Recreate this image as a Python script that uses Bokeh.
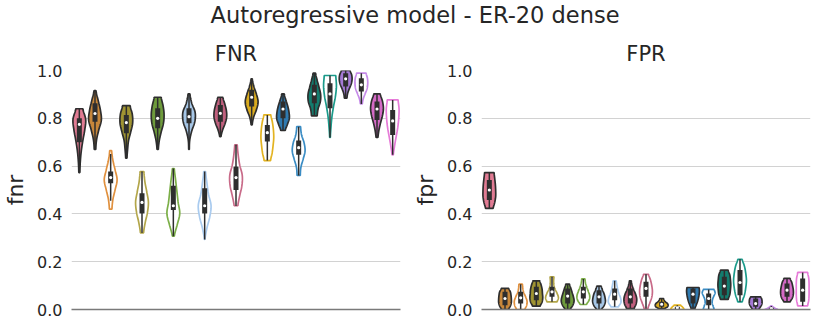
import numpy as np
from bokeh.plotting import figure
from bokeh.models import ColumnDataSource, Range1d, FixedTicker, Div, PrintfTickFormatter
from bokeh.layouts import column, row
from bokeh.embed import file_html
from bokeh.resources import INLINE

# ---------------- data ----------------
categories = ["c01", "c02", "c03", "c04", "c05", "c06", "c07", "c08", "c09", "c10", "c11",
              "c12", "c13", "c14", "c15", "c16", "c17", "c18", "c19", "c20", "c21"]

# FNR: extent, quartiles, median, relative density profile (bottom -> top)
fnr_lo = [0.573, 0.670, 0.420, 0.633, 0.321, 0.670, 0.307, 0.670, 0.293, 0.723, 0.434,
          0.772, 0.623, 0.749, 0.561, 0.810, 0.720, 0.884, 0.860, 0.720, 0.647]
fnr_hi = [0.840, 0.916, 0.665, 0.853, 0.577, 0.888, 0.590, 0.902, 0.577, 0.888, 0.689,
          0.965, 0.814, 0.902, 0.765, 0.989, 0.979, 1.000, 0.989, 0.902, 0.877]
fnr_q1 = [0.700, 0.786, 0.528, 0.737, 0.402, 0.758, 0.416, 0.779, 0.402, 0.786, 0.500,
          0.849, 0.703, 0.800, 0.647, 0.863, 0.842, 0.933, 0.912, 0.793, 0.730]
fnr_med = [0.775, 0.820, 0.552, 0.782, 0.448, 0.800, 0.434, 0.807, 0.434, 0.821, 0.552,
           0.888, 0.740, 0.839, 0.677, 0.902, 0.902, 0.965, 0.940, 0.839, 0.789]
fnr_q3 = [0.800, 0.863, 0.577, 0.814, 0.486, 0.842, 0.518, 0.842, 0.507, 0.856, 0.598,
          0.919, 0.772, 0.870, 0.707, 0.940, 0.947, 0.989, 0.968, 0.870, 0.835]
fnr_shape = [
    [0.08, 0.15, 0.30, 0.55, 0.85, 1.00, 0.55],
    [0.12, 0.25, 0.60, 1.00, 0.85, 0.50, 0.15],
    [0.20, 0.35, 0.70, 1.00, 0.70, 0.35, 0.15],
    [0.10, 0.20, 0.35, 0.70, 1.00, 0.95, 0.60],
    [0.25, 0.50, 0.85, 1.00, 0.75, 0.45, 0.30],
    [0.10, 0.25, 0.55, 0.90, 1.00, 0.85, 0.55],
    [0.15, 0.60, 1.00, 0.75, 0.55, 0.35, 0.15],
    [0.05, 0.12, 0.45, 0.95, 1.00, 0.45, 0.15],
    [0.05, 0.35, 0.80, 1.00, 0.60, 0.35, 0.15],
    [0.10, 0.35, 0.75, 1.00, 0.95, 0.70, 0.40],
    [0.30, 0.60, 0.95, 1.00, 0.60, 0.35, 0.20],
    [0.08, 0.30, 0.75, 1.00, 0.75, 0.35, 0.10],
    [0.50, 0.75, 0.90, 1.00, 0.95, 0.80, 0.55],
    [0.35, 0.70, 1.00, 0.95, 0.75, 0.45, 0.20],
    [0.25, 0.35, 0.70, 1.00, 0.85, 0.45, 0.30],
    [0.45, 0.60, 0.95, 1.00, 0.75, 0.45, 0.20],
    [0.05, 0.15, 0.30, 0.55, 0.85, 1.00, 0.90],
    [0.20, 0.30, 0.55, 0.85, 1.00, 0.95, 0.70],
    [0.15, 0.30, 0.60, 0.90, 1.00, 0.95, 0.75],
    [0.15, 0.30, 0.55, 0.85, 1.00, 0.85, 0.50],
    [0.10, 0.30, 0.55, 0.80, 0.95, 1.00, 0.85],
]

fpr_lo = [0.423, 0.000, 0.000, 0.014, 0.032, 0.000, 0.021, 0.000, 0.011, 0.004, 0.004,
          0.004, 0.000, 0.004, 0.000, 0.042, 0.032, 0.000, 0.000, 0.032, 0.015]
fpr_hi = [0.573, 0.088, 0.106, 0.120, 0.137, 0.106, 0.128, 0.098, 0.120, 0.120, 0.147,
          0.046, 0.018, 0.092, 0.084, 0.165, 0.210, 0.053, 0.015, 0.130, 0.155]
fpr_q1 = [0.458, 0.018, 0.025, 0.039, 0.053, 0.025, 0.046, 0.025, 0.039, 0.025, 0.053,
          0.011, 0.000, 0.025, 0.018, 0.060, 0.060, 0.011, 0.000, 0.053, 0.032]
fpr_med = [0.500, 0.046, 0.049, 0.067, 0.074, 0.056, 0.074, 0.053, 0.064, 0.053, 0.088,
           0.022, 0.007, 0.064, 0.046, 0.098, 0.113, 0.025, 0.004, 0.081, 0.081]
fpr_q3 = [0.542, 0.074, 0.074, 0.095, 0.095, 0.088, 0.095, 0.081, 0.088, 0.088, 0.116,
          0.032, 0.011, 0.088, 0.067, 0.137, 0.165, 0.046, 0.007, 0.109, 0.130]
fpr_shape = [
    [0.60, 0.85, 1.00, 1.00, 0.95, 0.85, 0.75],
    [0.55, 0.85, 1.00, 1.00, 0.95, 0.85, 0.60],
    [0.60, 0.85, 0.90, 0.70, 0.45, 0.30, 0.25],
    [0.60, 0.90, 1.00, 0.95, 0.90, 0.75, 0.55],
    [0.80, 1.00, 0.80, 0.50, 0.30, 0.25, 0.30],
    [0.40, 0.80, 1.00, 0.90, 0.70, 0.50, 0.30],
    [0.50, 0.90, 1.00, 0.80, 0.55, 0.35, 0.25],
    [0.40, 0.80, 1.00, 0.95, 0.80, 0.55, 0.35],
    [0.60, 1.00, 0.95, 0.70, 0.50, 0.35, 0.25],
    [0.60, 0.90, 1.00, 0.85, 0.55, 0.30, 0.15],
    [0.30, 0.60, 0.90, 1.00, 0.90, 0.70, 0.40],
    [0.50, 0.90, 1.00, 0.90, 0.60, 0.40, 0.30],
    [0.90, 1.00, 0.95, 0.85, 0.75, 0.60, 0.50],
    [0.30, 0.50, 0.70, 0.85, 0.95, 1.00, 0.95],
    [0.85, 0.70, 0.55, 0.60, 0.80, 1.00, 0.85],
    [0.60, 0.85, 0.95, 1.00, 0.95, 0.85, 0.60],
    [0.35, 0.70, 0.90, 1.00, 0.90, 0.70, 0.35],
    [0.50, 0.70, 0.90, 1.00, 1.00, 0.95, 0.80],
    [1.00, 0.80, 0.60, 0.45, 0.30, 0.20, 0.10],
    [0.50, 0.85, 1.00, 1.00, 0.90, 0.75, 0.50],
    [0.70, 0.85, 0.90, 0.90, 0.90, 0.85, 0.70],
]

# ---------------- styles ----------------
fill_palette = ["#e07b93", "#c8873a", "#a09432", "#6e9b3c", "#a6c6e6", "#c0607e",
                "#d9ab1f", "#2f7ab0", "#137c6e", "#a57ad6", "#d46ac6"]
line_palette = ["#e07b93", "#e0903e", "#b3a64a", "#7caf48", "#a9cbef", "#c86a88",
                "#e3b320", "#3a8cc4", "#1a9a8a", "#c58ae8", "#e67bd8"]
DARK = "#2e2e2e"
TXT = "#262626"
FONT = "DejaVu Sans"


def catmull(vals, n=10):
    p = np.array(vals, dtype=float)
    p = np.concatenate([[p[0]], p, [p[-1]]])
    out = []
    for i in range(1, len(p) - 2):
        p0, p1, p2, p3 = p[i - 1], p[i], p[i + 1], p[i + 2]
        for t in np.linspace(0, 1, n, endpoint=False):
            out.append(0.5 * ((2 * p1) + (-p0 + p2) * t +
                              (2 * p0 - 5 * p1 + 4 * p2 - p3) * t * t +
                              (-p0 + 3 * p1 - 3 * p2 + p3) * t ** 3))
    out.append(p[-2])
    out = np.clip(np.array(out), 0.03, None)
    return out / out.max()


def make_panel(title, ylabel, lo, hi, q1, med, q3, shapes, border_left):
    p = figure(width=410, height=290, output_backend="svg", toolbar_location=None,
               x_range=Range1d(-0.5, len(categories) - 0.5), y_range=Range1d(0, 1.0),
               min_border_left=border_left, min_border_right=10, min_border_top=37,
               min_border_bottom=14, title=title)
    p.outline_line_color = None
    p.background_fill_color = "white"
    p.title.align = "center"
    p.title.text_font = FONT
    p.title.text_font_size = "21px"
    p.title.text_font_style = "normal"
    p.title.text_color = TXT

    xs_all, ys_all, fills, lines = [], [], [], []
    for i in range(len(categories)):
        w = catmull(shapes[i]) * 0.41
        ys = lo[i] + (hi[i] - lo[i]) * np.linspace(0, 1, len(w))
        xs = np.concatenate([i + w, (i - w)[::-1]])
        yy = np.concatenate([ys, ys[::-1]])
        xs_all.append(list(xs))
        ys_all.append(list(yy))
        k = (i + 1) // 2
        filled = (i == 0) or (i % 2 == 1)
        fills.append(fill_palette[k] if filled else "white")
        lines.append(DARK if filled else line_palette[k])
    src = ColumnDataSource(dict(xs=xs_all, ys=ys_all, fc=fills, lc=lines))
    p.patches("xs", "ys", source=src, fill_color="fc", line_color="lc", line_width=1.7)

    idx = list(range(len(categories)))
    iqr = np.array(q3) - np.array(q1)
    wlo = np.maximum(np.array(lo), np.array(q1) - 1.5 * iqr)
    whi = np.minimum(np.array(hi), np.array(q3) + 1.5 * iqr)
    p.segment(x0=idx, y0=list(wlo), x1=idx, y1=list(whi), line_color=DARK, line_width=1.5)
    p.segment(x0=idx, y0=q1, x1=idx, y1=q3, line_color=DARK, line_width=5)
    p.scatter(x=idx, y=med, size=3.2, fill_color="white", line_color=None)

    p.xaxis.ticker = FixedTicker(ticks=[])
    p.xaxis.axis_line_color = "#7a7a7a"
    p.xaxis.axis_line_width = 1.6
    p.xaxis.major_tick_line_color = None
    p.xaxis.minor_tick_line_color = None
    p.xgrid.grid_line_color = None

    p.yaxis.ticker = FixedTicker(ticks=[0.0, 0.2, 0.4, 0.6, 0.8, 1.0])
    p.yaxis.formatter = PrintfTickFormatter(format="%.1f")
    p.yaxis.axis_line_color = None
    p.yaxis.major_tick_line_color = None
    p.yaxis.minor_tick_line_color = None
    p.yaxis.major_tick_out = 0
    p.yaxis.major_label_standoff = 9
    p.yaxis.major_label_text_font = FONT
    p.yaxis.major_label_text_font_size = "16px"
    p.yaxis.major_label_text_color = TXT
    p.yaxis.axis_label = ylabel
    p.yaxis.axis_label_text_font = FONT
    p.yaxis.axis_label_text_font_size = "22px"
    p.yaxis.axis_label_text_font_style = "normal"
    p.yaxis.axis_label_text_color = TXT
    p.yaxis.axis_label_standoff = 6
    p.ygrid.grid_line_color = "#d2d2d2"
    p.ygrid.grid_line_width = 1
    return p


p1 = make_panel("FNR", "fnr", fnr_lo, fnr_hi, fnr_q1, fnr_med, fnr_q3, fnr_shape, 62)
p2 = make_panel("FPR", "fpr", fpr_lo, fpr_hi, fpr_q1, fpr_med, fpr_q3, fpr_shape, 61)

head = Div(text="Autoregressive model - ER-20 dense", width=820, height=23,
           styles={"font-family": FONT, "font-size": "22.5px", "color": TXT,
                   "text-align": "center", "line-height": "20px", "width": "820px"})

layout = column(head, row(p1, p2, spacing=0), spacing=0)
open("out.html", "w").write(file_html(layout, INLINE))
